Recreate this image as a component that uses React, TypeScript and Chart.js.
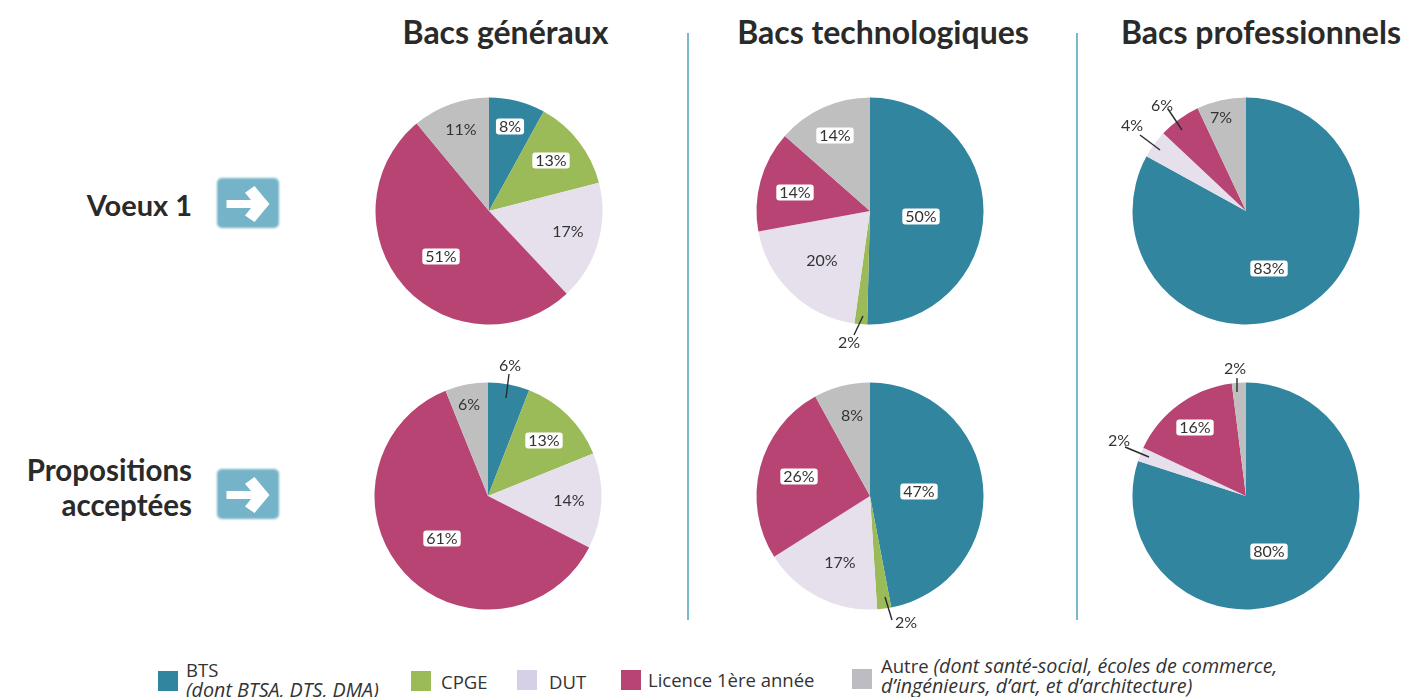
import React, { useEffect, useRef } from "react";
import { Chart, registerables } from "chart.js";

Chart.register(...registerables);

const categories = ["BTS", "CPGE", "DUT", "Licence 1ère année", "Autre"];
const colors = ["#31859f", "#9bbb59", "#e6e0ec", "#b84474", "#bfbfbf"];

const voeuxGeneraux = [8, 13, 17, 51, 11];
const voeuxTechno = [50.4, 1.8, 19.9, 14.4, 13.5];
const voeuxPro = [83, 0, 4, 6, 7];
const propGeneraux = [5.9, 13, 13.6, 61.4, 6.1];
const propTechno = [47, 2, 17, 26, 8];
const propPro = [80, 0, 2, 16, 2];

const columnTitles = ["Bacs généraux", "Bacs technologiques", "Bacs professionnels"];

type Lbl = { dx: number; dy: number; box?: boolean; leader?: number[] };

const pies: { values: number[]; cx: number; cy: number; labels: (Lbl | null)[] }[] = [
  {
    values: voeuxGeneraux, cx: 489, cy: 211,
    labels: [
      { dx: 21, dy: -85, box: true },
      { dx: 62, dy: -51, box: true },
      { dx: 79, dy: 20 },
      { dx: -48, dy: 45, box: true },
      { dx: -28, dy: -82 },
    ],
  },
  {
    values: voeuxTechno, cx: 870, cy: 211,
    labels: [
      { dx: 51, dy: 5, box: true },
      { dx: -21, dy: 131, leader: [-7, 105, -16, 124] },
      { dx: -48, dy: 49 },
      { dx: -75, dy: -19, box: true },
      { dx: -35, dy: -76, box: true },
    ],
  },
  {
    values: voeuxPro, cx: 1246, cy: 211,
    labels: [
      { dx: 23, dy: 57, box: true },
      null,
      { dx: -114, dy: -86, leader: [-106, -76, -86, -61] },
      { dx: -84, dy: -106, leader: [-78, -102, -64, -81] },
      { dx: -25, dy: -94 },
    ],
  },
  {
    values: propGeneraux, cx: 488, cy: 496,
    labels: [
      { dx: 22, dy: -131, leader: [21, -122, 18, -98] },
      { dx: 56, dy: -56, box: true },
      { dx: 81, dy: 4 },
      { dx: -46, dy: 42, box: true },
      { dx: -19, dy: -92 },
    ],
  },
  {
    values: propTechno, cx: 870, cy: 496,
    labels: [
      { dx: 49, dy: -5, box: true },
      { dx: 36, dy: 126, leader: [15, 101, 22, 124] },
      { dx: -30, dy: 66 },
      { dx: -71, dy: -20, box: true },
      { dx: -18, dy: -81 },
    ],
  },
  {
    values: propPro, cx: 1246, cy: 496,
    labels: [
      { dx: 23, dy: 55, box: true },
      null,
      { dx: -127, dy: -56, leader: [-121, -49, -97, -39] },
      { dx: -51, dy: -69, box: true },
      { dx: -11, dy: -128, leader: [-9, -118, -9, -104] },
    ],
  },
];

const LABEL_FONT = "400 16px Lato, 'Open Sans', sans-serif";

const labelPlugin = {
  id: "sliceLabels",
  afterDatasetsDraw(chart: any, _a: any, opts: any) {
    const { ctx } = chart;
    const arcs = chart.getDatasetMeta(0).data;
    const values = chart.data.datasets[0].data as number[];
    const layout: (Lbl | null)[] = opts.layout;
    const cx = arcs[0].x;
    const cy = arcs[0].y;
    ctx.save();
    ctx.font = LABEL_FONT;
    ctx.textAlign = "center";
    ctx.textBaseline = "middle";
    layout.forEach((l, i) => {
      if (!l) return;
      const text = `${Math.round(values[i])}%`;
      const x = cx + l.dx;
      const y = cy + l.dy;
      if (l.leader) {
        ctx.strokeStyle = "#2a2a2a";
        ctx.lineWidth = 1.4;
        ctx.beginPath();
        ctx.moveTo(cx + l.leader[0], cy + l.leader[1]);
        ctx.lineTo(cx + l.leader[2], cy + l.leader[3]);
        ctx.stroke();
      }
      if (l.box) {
        const w = ctx.measureText(text).width + 6;
        ctx.fillStyle = "#ffffff";
        ctx.beginPath();
        ctx.roundRect(x - w / 2, y - 7.5, w, 16, 3);
        ctx.fill();
      }
      ctx.fillStyle = "#333333";
      ctx.fillText(text, x, y + 1);
    });
    ctx.restore();
  },
};

const CANVAS_SIZE = 290;

function Pie({ values, cx, cy, labels }: (typeof pies)[number]) {
  const ref = useRef<HTMLCanvasElement | null>(null);
  useEffect(() => {
    const chart = new Chart(ref.current as HTMLCanvasElement, {
      type: "pie",
      data: {
        labels: categories,
        datasets: [{ data: values, backgroundColor: colors, borderWidth: 0 }],
      },
      options: {
        responsive: false,
        animation: false,
        layout: { padding: 31.5 },
        plugins: {
          legend: { display: false },
          tooltip: { enabled: false },
          sliceLabels: { layout: labels },
        } as any,
      },
      plugins: [labelPlugin],
    } as any);
    return () => chart.destroy();
  }, []);
  return (
    <canvas
      ref={ref}
      width={CANVAS_SIZE}
      height={CANVAS_SIZE}
      style={{ position: "absolute", left: cx - CANVAS_SIZE / 2, top: cy - CANVAS_SIZE / 2, width: CANVAS_SIZE, height: CANVAS_SIZE }}
    />
  );
}

const HEAD_FONT = "Lato, 'Open Sans', sans-serif";
const LEGEND_FONT = "'Open Sans', Lato, sans-serif";

function Arrow({ top }: { top: number }) {
  return (
    <svg
      width={70}
      height={58}
      style={{ position: "absolute", left: 213, top: top - 4 }}
      viewBox="0 0 70 58"
    >
      <defs>
        <filter id={`b${Math.round(top)}`} x="-10%" y="-10%" width="120%" height="120%">
          <feGaussianBlur stdDeviation="1" />
        </filter>
      </defs>
      <rect x={4} y={4} width={62} height={50} rx={5} fill="#74b3c9" filter={`url(#b${Math.round(top)})`} />
      <path d="M13.5 26 H38 L32 18.7 L41.5 12 L56.5 30 L41.5 48 L32 41.5 L38 34 H13.5 Z" fill="#ffffff" />
    </svg>
  );
}

const absText = (left: number, top: number, extra: React.CSSProperties = {}): React.CSSProperties => ({
  position: "absolute",
  left,
  top,
  whiteSpace: "nowrap",
  fontFamily: HEAD_FONT,
  color: "#2a2a2a",
  ...extra,
});

const columnCenters = [505.5, 883, 1261];
const dividers = [688, 1076.5];

const legendItems: { x: number; y: number; color: string }[] = [
  { x: 158, y: 671, color: "#31859f" },
  { x: 411, y: 671, color: "#9bbb59" },
  { x: 517, y: 670, color: "#d5d0e8" },
  { x: 621, y: 670, color: "#b84474" },
  { x: 852, y: 669, color: "#bcbcc2" },
];

export default function App() {
  const legendFont: React.CSSProperties = { fontFamily: LEGEND_FONT, fontSize: 18.5, lineHeight: "20px", color: "#333333" };
  const it: React.CSSProperties = { fontStyle: "italic", fontSize: 19.7 };
  return (
    <div style={{ position: "absolute", left: 0, top: 0, width: 1406, height: 697, overflow: "hidden", background: "#fff" }}>
      {columnTitles.map((t, i) => (
        <div
          key={t}
          style={absText(columnCenters[i] - 200, 14, {
            width: 400,
            textAlign: "center",
            fontSize: 32,
            lineHeight: "36px",
            fontWeight: 700,
          })}
        >
          {t}
        </div>
      ))}
      {dividers.map((x) => (
        <div key={x} style={{ position: "absolute", left: x - 1, top: 33, width: 2, height: 587, background: "#7ab8cc" }} />
      ))}
      <div style={absText(0, 187, { width: 192, textAlign: "right", fontSize: 29, lineHeight: "36px", fontWeight: 700 })}>Voeux 1</div>
      <div style={absText(0, 452, { width: 192, textAlign: "right", fontSize: 29.5, lineHeight: "35px", fontWeight: 700 })}>
        Propositions
        <br />
        acceptées
      </div>
      <Arrow top={178} />
      <Arrow top={468.5} />
      {pies.map((p, i) => (
        <Pie key={i} {...p} />
      ))}
      {legendItems.map((l) => (
        <div key={l.x} style={{ position: "absolute", left: l.x, top: l.y, width: 20, height: 20, background: l.color }} />
      ))}
      <div style={absText(186, 660, legendFont)}>
        BTS
        <br />
        <span style={it}>(dont BTSA, DTS, DMA)</span>
      </div>
      <div style={absText(441, 672, legendFont)}>CPGE</div>
      <div style={absText(549, 672, legendFont)}>DUT</div>
      <div style={absText(648, 670, legendFont)}>Licence 1ère année</div>
      <div style={absText(881, 656, legendFont)}>
        Autre <span style={it}>(dont santé-social, écoles de commerce,</span>
        <br />
        <span style={it}>d’ingénieurs, d’art, et d’architecture)</span>
      </div>
    </div>
  );
}
